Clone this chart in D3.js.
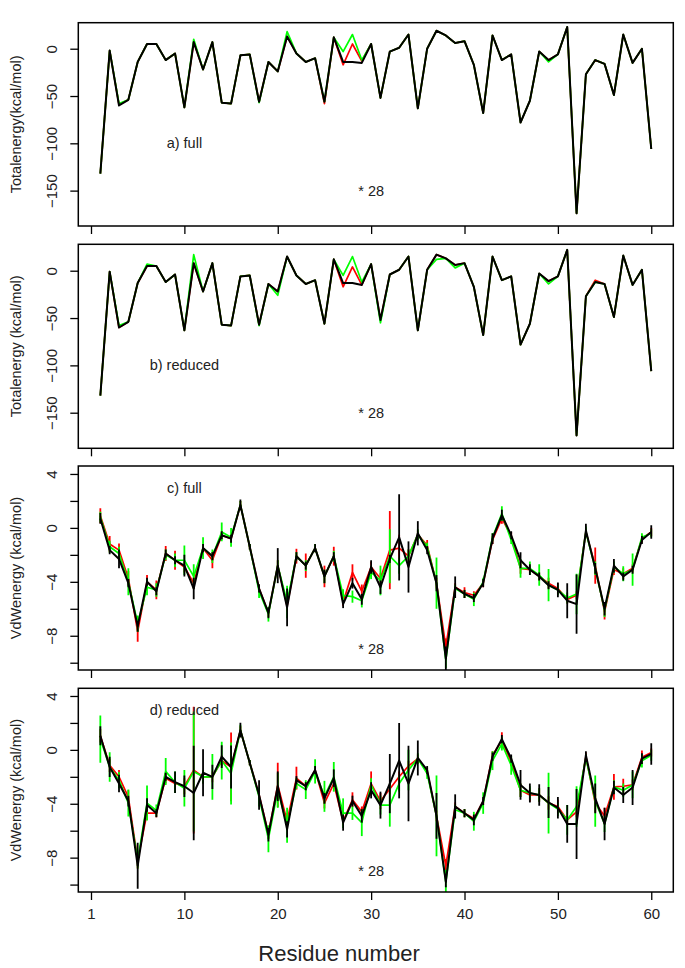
<!DOCTYPE html>
<html><head><meta charset="utf-8">
<script src="https://cdn.jsdelivr.net/npm/d3@7"></script>
<style>body{margin:0;background:#fff}svg{display:block;font-family:"Liberation Sans",Arial,sans-serif}</style>
</head><body><svg id="c" width="685" height="968"></svg>
<script>
const residues = d3.range(1, 61);
const xTickValues = [0, 10, 20, 30, 40, 50, 60];
const xTickLabels = ["1", "10", "20", "30", "40", "50", "60"];

// Panel a) full - total energy
const aBlack = [-132,-2,-60,-54,-14,5,5,-12,-5,-62,7,-22,7,-57,-58,-7,-6,-56,-14,-24,13,-5,-14,-10,-56,12,-14,-14,-15,5,-52,-3,1,15,-63,0,19,14,6,8,-17,-68,14,-12,-6,-78,-55,-3,-12,-6,23,-174,-27,-12,-16,-49,15,-15,0,-106];
const aRed   = [-132,-2,-59,-54,-14,5,5,-12,-5,-62,7,-22,7,-57,-58,-7,-6,-56,-14,-24,13,-5,-14,-10,-58,12,-17,5,-13,5,-52,-3,1,15,-63,0,19,14,6,8,-17,-68,14,-12,-6,-78,-55,-3,-12,-6,23,-174,-27,-12,-16,-49,15,-15,0,-106];
const aGreen = [-132,-2,-58,-54,-14,5,5,-12,-5,-62,10,-22,7,-57,-58,-7,-6,-57,-14,-24,18,-5,-14,-10,-56,12,-3,15,-12,5,-52,-3,1,15,-63,0,19,14,6,8,-17,-68,14,-12,-6,-78,-55,-3,-14,-6,23,-174,-27,-12,-16,-49,15,-15,0,-106];

// Panel b) reduced - total energy
const bBlack = [-132,-1,-60,-54,-13,5,5,-12,-4,-63,8,-22,8,-57,-58,-6,-5,-57,-14,-22,15,-5,-14,-10,-56,12,-13,-13,-15,7,-52,-4,1,15,-63,1,17,13,6,8,-17,-68,15,-10,-6,-78,-56,-3,-11,-6,22,-174,-27,-12,-14,-49,16,-15,1,-106];
const bRed   = [-132,-1,-60,-54,-13,5,5,-12,-4,-63,8,-22,8,-57,-58,-6,-5,-57,-14,-22,15,-5,-14,-10,-56,12,-17,4,-15,7,-52,-4,1,15,-63,1,17,13,6,8,-17,-68,15,-10,-6,-78,-56,-3,-11,-6,22,-174,-27,-10,-14,-49,16,-15,1,-106];
const bGreen = [-132,-1,-58,-54,-13,7,5,-12,-4,-63,17,-22,8,-57,-58,-6,-5,-58,-14,-26,15,-5,-14,-10,-56,12,-5,15,-12,7,-55,-4,1,15,-63,1,12,13,3,8,-17,-68,15,-10,-6,-78,-56,-3,-14,-6,22,-174,-27,-12,-14,-49,16,-15,1,-106];

// Panel c) full - VdW energy
const cBlack = [0.7,-1.65,-2.3,-4.1,-7.3,-4.0,-4.7,-1.9,-2.4,-2.8,-4.5,-1.5,-2.1,-0.55,-0.8,1.7,-1.4,-4.5,-6.3,-2.8,-5.9,-2.1,-2.8,-1.5,-3.6,-2.1,-5.65,-4.1,-5.3,-2.9,-4.4,-2.3,-0.7,-2.9,-0.4,-1.65,-4.1,-9.7,-4.4,-4.9,-5.2,-4.1,-0.8,0.95,-0.55,-2.4,-3.1,-3.6,-4.25,-4.6,-5.4,-5.65,-0.2,-3.0,-6.0,-2.8,-3.6,-3.1,-0.9,-0.3];
const cRed   = [0.9,-1.2,-1.65,-3.75,-7.7,-4.0,-4.6,-1.9,-2.4,-2.9,-4.1,-1.5,-2.4,-0.55,-0.8,1.7,-1.4,-4.5,-6.3,-2.8,-5.8,-2.1,-2.8,-1.5,-3.6,-2.1,-5.5,-3.3,-4.7,-2.9,-3.75,-1.65,-1.5,-2.1,-0.5,-1.3,-4.1,-8.8,-4.4,-4.8,-5.0,-4.1,-0.9,0.7,-0.6,-3.0,-3.1,-3.6,-4.1,-4.5,-5.3,-5.0,-0.3,-2.8,-6.2,-3.1,-3.4,-3.0,-0.8,-0.3];
const cGreen = [0.8,-1.4,-1.9,-4.0,-7.1,-4.4,-4.6,-2.0,-2.4,-2.4,-3.6,-1.5,-2.1,-0.3,-0.7,1.7,-1.4,-4.7,-6.4,-2.8,-5.5,-2.1,-2.8,-1.5,-3.6,-2.1,-5.0,-5.1,-5.4,-3.3,-3.9,-2.1,-2.8,-2.1,-0.5,-1.4,-4.1,-9.8,-4.5,-4.9,-5.3,-4.0,-0.7,1.06,-0.9,-3.0,-3.0,-3.5,-4.25,-4.6,-5.2,-4.9,-0.3,-3.0,-6.1,-2.9,-3.4,-3.1,-0.7,-0.4];
const cBlackErr = [0.4,0.3,0.7,0.3,0.4,0.3,0.3,0.3,0.3,0.8,0.8,0.3,0.3,0.3,0.3,0.4,0.2,0.3,0.4,1.3,1.4,0.3,0.3,0.3,0.5,0.3,0.3,0.4,0.4,0.5,0.5,0.3,3.2,1.9,0.9,0.3,0.6,0.9,0.8,0.3,0.3,0.3,0.4,0.4,0.3,0.6,0.4,0.3,0.3,0.55,1.3,2.2,0.5,0.4,0.5,0.5,0.3,0.3,0.3,0.5];
const cRedErr   = [0.55,0.6,0.5,0.55,0.75,0.5,0.7,0.55,0.7,0.4,0.4,0.3,0.6,0.3,0.3,0.3,0.2,0.3,0.3,0.4,0.4,0.55,0.9,0.3,0.8,0.7,0.3,0.6,0.5,0.4,0.4,2.9,1.0,0.5,0.3,0.4,0.4,0.6,0.3,0.4,0.3,0.3,0.3,0.4,0.3,0.4,0.3,0.3,0.4,0.4,0.3,0.3,0.3,1.35,0.6,0.4,0.4,0.3,0.3,0.3];
const cGreenErr = [0.4,0.45,0.5,1.0,0.6,0.6,0.5,0.4,0.5,1.1,0.9,0.8,0.5,0.7,0.7,0.3,0.2,0.5,0.55,0.4,1.2,0.3,0.4,0.3,0.5,0.4,0.45,0.45,0.5,0.5,1.1,2.0,0.6,0.5,0.4,0.3,1.9,0.6,0.3,0.3,0.5,0.3,0.3,0.55,0.3,0.7,0.5,0.8,1.2,0.4,0.4,1.5,0.4,0.5,0.5,0.4,0.55,1.2,0.3,0.3];

// Panel d) reduced - VdW energy
const dBlack = [1.05,-1.27,-2.5,-3.8,-8.6,-4.1,-4.7,-2.0,-2.4,-2.7,-3.2,-1.7,-2.0,-0.5,-1.27,1.46,-0.95,-3.35,-6.3,-2.7,-5.9,-2.25,-2.7,-1.5,-3.6,-2.1,-5.4,-3.8,-4.9,-3.0,-4.1,-2.5,-0.8,-2.5,-0.6,-1.5,-4.9,-9.8,-4.2,-4.7,-5.2,-3.8,-0.5,0.8,-0.65,-2.6,-3.2,-3.35,-3.9,-4.3,-5.5,-5.5,-0.4,-3.6,-5.5,-2.8,-3.35,-2.8,-0.65,-0.3];
const dRed   = [1.05,-1.15,-2.0,-3.5,-8.2,-4.7,-4.7,-2.1,-2.5,-2.7,-1.5,-2.0,-2.0,-0.8,-1.27,1.46,-0.95,-3.35,-6.2,-2.6,-5.3,-2.1,-2.7,-1.5,-3.95,-2.5,-5.3,-3.7,-4.6,-2.5,-3.8,-2.9,-2.0,-1.2,-0.65,-1.6,-4.9,-8.6,-4.2,-4.7,-5.1,-3.8,-0.4,0.7,-0.9,-3.0,-3.35,-3.35,-3.95,-4.2,-5.2,-4.6,-0.5,-3.95,-4.9,-2.75,-2.7,-2.6,-0.55,-0.2];
const dGreen = [0.8,-1.27,-2.25,-3.95,-8.2,-3.95,-4.5,-1.6,-2.4,-2.85,-1.6,-2.0,-2.0,-0.8,-1.75,1.46,-0.95,-3.5,-6.6,-3.0,-5.6,-2.5,-2.95,-1.6,-3.45,-2.0,-4.7,-4.7,-5.4,-2.6,-4.1,-4.1,-2.5,-1.5,-0.65,-1.75,-4.9,-9.8,-4.45,-4.7,-5.3,-3.95,-0.8,0.45,-1.15,-3.0,-3.2,-3.35,-3.95,-4.4,-5.2,-4.2,-0.6,-3.8,-5.5,-2.75,-3.0,-2.6,-0.8,-0.4];
const dBlackErr = [0.7,0.75,0.65,0.4,1.7,0.5,0.3,0.3,0.8,0.8,3.5,1.75,0.9,0.85,1.6,0.55,0.2,1.1,0.5,1.1,0.6,0.3,0.3,0.3,0.4,0.65,0.6,0.4,0.5,0.6,1.0,2.2,2.8,2.8,1.3,0.3,1.7,0.4,0.9,0.3,0.4,0.3,0.3,0.3,0.3,1.1,0.7,0.8,1.15,0.8,1.4,2.6,0.3,1.1,1.2,0.5,0.6,1.3,0.4,0.8];
const dRedErr   = [0.5,0.5,0.5,0.5,0.6,0.5,0.3,0.4,0.4,0.6,4.7,0.5,0.4,0.4,2.55,0.3,0.2,0.3,0.4,1.65,0.6,0.85,0.3,0.3,0.4,0.3,0.3,0.55,0.4,0.9,0.6,0.4,0.4,0.4,0.3,0.3,0.4,0.5,0.3,0.3,0.3,0.3,0.3,0.6,0.3,0.5,0.5,0.5,0.5,0.5,0.3,0.4,0.3,0.7,0.6,0.95,0.55,0.4,0.5,0.3];
const dGreenErr = [1.75,1.1,0.6,1.0,0.6,1.3,0.45,1.0,0.8,1.35,4.45,0.5,1.7,1.4,2.3,0.4,0.2,0.7,1.0,1.3,1.3,0.4,0.7,0.9,1.15,1.1,1.1,0.5,1.0,0.5,0.7,1.6,0.6,1.5,0.4,0.4,3.0,0.9,0.4,0.3,0.7,0.8,0.7,0.5,0.7,0.5,0.5,0.5,2.25,0.5,1.1,1.5,0.3,1.9,0.6,0.5,0.5,1.0,0.5,0.4];

const totalTicks = [0, -50, -100, -150];
const vdwTicks = [4, 2, 0, -2, -4, -6, -8, -10];
const vdwTickLabels = [4, 0, -4, -8];

const panels = [
  {top: 22.7, bottom: 226, domain: [-187.4, 27.5], ylab: "Totalenergy(kcal/mol)", ticks: totalTicks, labels: totalTicks,
   note: "a) full", noteAt: [10, -100], starAt: [30, -150],
   series: [{v: aRed, c: "#ff0000"}, {v: aGreen, c: "#00ff00"}, {v: aBlack, c: "#000"}]},
  {top: 244.3, bottom: 448.3, domain: [-187.6, 27.9], ylab: "Totalenergy (kcal/mol)", ticks: totalTicks, labels: totalTicks,
   note: "b) reduced", noteAt: [10, -100], starAt: [30, -150],
   series: [{v: bRed, c: "#ff0000"}, {v: bGreen, c: "#00ff00"}, {v: bBlack, c: "#000"}]},
  {top: 466, bottom: 670, domain: [-10.54, 4.59], ylab: "VdWenergy (kcal/mol)", ticks: vdwTicks, labels: vdwTickLabels,
   note: "c) full", noteAt: [10, 3], starAt: [30, -9],
   series: [{v: cRed, e: cRedErr, c: "#ff0000"}, {v: cGreen, e: cGreenErr, c: "#00ff00"}, {v: cBlack, e: cBlackErr, c: "#000"}]},
  {top: 688.3, bottom: 892, domain: [-10.55, 4.57], ylab: "VdWenergy (kcal/mol)", ticks: vdwTicks, labels: vdwTickLabels,
   note: "d) reduced", noteAt: [10, 3], starAt: [30, -9],
   series: [{v: dRed, e: dRedErr, c: "#ff0000"}, {v: dGreen, e: dGreenErr, c: "#00ff00"}, {v: dBlack, e: dBlackErr, c: "#000"}]}
];

const svg = d3.select("#c");
const x = d3.scaleLinear().domain([-1.36, 62.36]).range([78.3, 673.3]);

panels.forEach((p, pi) => {
  const y = d3.scaleLinear().domain(p.domain).range([p.bottom, p.top]);
  const g = svg.append("g");
  const clipId = "clip" + pi;
  svg.append("clipPath").attr("id", clipId).append("rect")
    .attr("x", x.range()[0]).attr("y", p.top).attr("width", x.range()[1] - x.range()[0]).attr("height", p.bottom - p.top);
  const plot = g.append("g").attr("clip-path", `url(#${clipId})`);

  p.series.forEach(s => {
    const isBlack = s.c === "#000";
    if (s.e) {
      plot.append("g").selectAll("line").data(residues).join("line")
        .attr("x1", d => x(d)).attr("x2", d => x(d))
        .attr("y1", (d, i) => y(s.v[i] - s.e[i])).attr("y2", (d, i) => y(s.v[i] + s.e[i]))
        .attr("stroke", s.c).attr("stroke-width", 1.8);
    }
    plot.append("path").datum(residues)
      .attr("d", d3.line().x(d => x(d)).y((d, i) => y(s.v[i])))
      .attr("fill", "none").attr("stroke", s.c)
      .attr("stroke-width", isBlack ? 2 : 1.7).attr("stroke-linejoin", "round");
  });

  // frame
  g.append("rect").attr("x", x.range()[0]).attr("y", p.top)
    .attr("width", x.range()[1] - x.range()[0]).attr("height", p.bottom - p.top)
    .attr("fill", "none").attr("stroke", "#000").attr("stroke-width", 1.5);

  // y axis
  const yAxis = d3.axisLeft(y).tickValues(p.ticks).tickSize(8).tickPadding(0)
    .tickFormat(d => p.labels.includes(d) ? (d < 0 ? "\u2212" + Math.abs(d) : String(d)) : "");
  const ya = g.append("g").attr("transform", `translate(${x.range()[0]},0)`).call(yAxis);
  ya.select(".domain").remove();
  ya.selectAll(".tick line").attr("stroke", "#000").attr("stroke-width", 1.3);
  ya.selectAll(".tick text").attr("transform", "translate(-21,0) rotate(-90)")
    .attr("x", 0).attr("dy", 0).attr("text-anchor", "middle")
    .attr("font-size", 15).attr("fill", "#222");

  // x axis ticks
  const xAxis = d3.axisBottom(x).tickValues(xTickValues).tickSize(8).tickPadding(8)
    .tickFormat((d, i) => pi === 3 ? xTickLabels[i] : "");
  const xa = g.append("g").attr("transform", `translate(0,${p.bottom})`).call(xAxis);
  xa.select(".domain").remove();
  xa.selectAll(".tick line").attr("stroke", "#000").attr("stroke-width", 1.3);
  xa.selectAll(".tick text").attr("font-size", 15).attr("fill", "#222");

  // y label
  g.append("text").attr("transform", `translate(21,${(p.top + p.bottom) / 2}) rotate(-90)`)
    .attr("text-anchor", "middle").attr("font-size", 14.5).attr("fill", "#222").text(p.ylab);

  // notes
  g.append("text").attr("x", x(p.noteAt[0])).attr("y", y(p.noteAt[1])).attr("dy", "0.35em")
    .attr("text-anchor", "middle").attr("font-size", 14.5).attr("fill", "#222").text(p.note);
  g.append("text").attr("x", x(p.starAt[0])).attr("y", y(p.starAt[1])).attr("dy", "0.35em")
    .attr("text-anchor", "middle").attr("font-size", 14.5).attr("fill", "#222").text("* 28");
});

svg.append("text").attr("x", 339).attr("y", 961).attr("text-anchor", "middle")
  .attr("font-size", 22).attr("fill", "#222").text("Residue number");
</script></body></html>
